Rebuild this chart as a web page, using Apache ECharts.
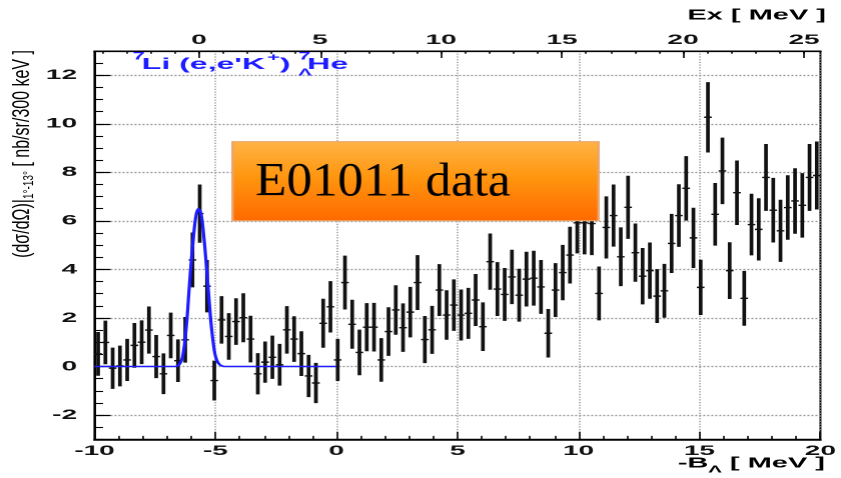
<!DOCTYPE html>
<html>
<head>
<meta charset="utf-8">
<script src="https://cdn.jsdelivr.net/npm/echarts@6/dist/echarts.min.js"></script>
<style>
  html, body { margin: 0; padding: 0; background: #fff; overflow: hidden; }
  #wrap { position: relative; width: 841px; height: 478px; overflow: hidden; background: #fff; }
  /* the spectrum is laid out at half width and stretched 2x horizontally */
  #chart { position: absolute; left: 0; top: 0; width: 420.5px; height: 478px; transform: scaleX(2); transform-origin: 0 0; }
</style>
</head>
<body>
<div id="wrap"><div id="chart"></div></div>
<script>
// 7Li(e,e'K+)7_Lambda He missing-mass spectrum, 300 keV bins
const binCenters = [
  -9.85, -9.55, -9.25, -8.95, -8.65, -8.35, -8.05, -7.75, -7.45, -7.15,
  -6.85, -6.55, -6.25, -5.95, -5.65, -5.35, -5.05, -4.75, -4.45, -4.15,
  -3.85, -3.55, -3.25, -2.95, -2.65, -2.35, -2.05, -1.75, -1.45, -1.15,
  -0.85, -0.55, -0.25, 0.05, 0.35, 0.65, 0.95, 1.25, 1.55, 1.85,
  2.15, 2.45, 2.75, 3.05, 3.35, 3.65, 3.95, 4.25, 4.55, 4.85,
  5.15, 5.45, 5.75, 6.05, 6.35, 6.65, 6.95, 7.25, 7.55, 7.85,
  8.15, 8.45, 8.75, 9.05, 9.35, 9.65, 9.95, 10.25, 10.55, 10.85,
  11.15, 11.45, 11.75, 12.05, 12.35, 12.65, 12.95, 13.25, 13.55, 13.85,
  14.15, 14.45, 14.75, 15.05, 15.35, 15.65, 15.95, 16.25, 16.55, 16.85,
  17.15, 17.45, 17.75, 18.05, 18.35, 18.65, 18.95, 19.25, 19.55, 19.85
];
const crossSection = [
  0.52, 0.99, -0.07, 0.02, 0.27, 0.87, 1.00, 1.50, 0.41, -0.30,
  1.28, 0.24, 1.10, 4.39, 6.30, 3.31, -0.58, 1.92, 1.24, 1.85,
  2.01, 1.13, -0.30, 0.18, 0.38, 0.07, 1.51, 1.13, 0.53, -0.39,
  -0.68, 1.78, 2.46, 0.27, 3.46, 1.74, 0.58, 1.62, 1.62, 0.27,
  1.44, 2.33, 1.60, 2.24, 3.46, 1.11, 1.51, 3.15, 2.12, 2.53,
  2.12, 2.19, 2.74, 1.64, 4.32, 3.19, 2.97, 3.69, 2.94, 3.60,
  3.64, 3.28, 1.37, 3.15, 3.87, 4.59, 5.92, 5.92, 5.89, 3.01,
  5.73, 6.22, 4.52, 6.56, 4.69, 3.72, 3.95, 2.90, 3.12, 5.07,
  6.22, 7.34, 5.30, 3.26, 10.27, 6.27, 8.06, 3.95, 7.16, 2.81,
  5.85, 5.65, 7.79, 6.44, 5.59, 6.55, 6.82, 6.64, 7.79, 7.87
];
const crossSectionErr = [
  0.90, 0.90, 0.85, 0.84, 0.87, 0.92, 0.90, 0.97, 0.89, 0.84,
  0.94, 0.88, 0.94, 1.13, 1.20, 1.08, 0.82, 0.98, 0.96, 0.96,
  1.01, 0.96, 0.85, 0.85, 0.89, 0.86, 0.98, 0.94, 0.92, 0.87,
  0.83, 1.01, 1.06, 0.87, 1.11, 1.01, 0.94, 0.99, 1.00, 0.90,
  1.00, 1.02, 1.00, 1.04, 1.13, 0.97, 0.99, 1.07, 1.02, 1.06,
  1.05, 1.05, 1.07, 1.00, 1.16, 1.11, 1.09, 1.12, 1.09, 1.13,
  1.13, 1.11, 1.00, 1.11, 1.14, 1.17, 1.26, 1.30, 1.30, 1.11,
  1.28, 1.28, 1.21, 1.30, 1.20, 1.16, 1.16, 1.11, 1.11, 1.22,
  1.29, 1.33, 1.24, 1.14, 1.45, 1.29, 1.37, 1.17, 1.33, 1.13,
  1.27, 1.28, 1.38, 1.33, 1.28, 1.33, 1.35, 1.33, 1.38, 1.40
];

// fitted ground-state peak (blue curve), drawn over the fit range -10 .. 0 MeV
const fitX = [-10, -6.7, -6.5, -6.35, -6.2, -6.1, -6.0, -5.9, -5.8, -5.71, -5.6, -5.5, -5.4, -5.3, -5.2, -5.1, -5.0, -4.85, -4.6, 0];
const fitY = [0, 0, 0.08, 0.45, 1.7, 3.05, 4.35, 5.45, 6.25, 6.5, 6.3, 5.55, 4.45, 3.2, 1.95, 1.02, 0.42, 0.1, 0, 0];

// tick labels
const bTicks = [-10, -5, 0, 5, 10, 15, 20];
const exTicks = [0, 5, 10, 15, 20, 25];
const yTicks = [-2, 0, 2, 4, 6, 8, 10, 12];

// Ex = -B_Lambda + B_Lambda(ground state)
const groundB = 5.68;
const bMin = -10, bMax = 20, yMin = -3, yMax = 13;

const exMinor = [];
for (let v = Math.ceil(bMin + groundB); v <= bMax + groundB; v++) exMinor.push(v);
const yMinor = [];
for (let v = yMin; v <= yMax + 1e-9; v += 0.5) yMinor.push(v);

const FONT = 'Liberation Sans';
const INK = '#111';
const BLUE = '#1c1cff';

const labelStyle = { color: INK, fontFamily: FONT, fontWeight: 'bold', fontSize: 14 };

const chart = echarts.init(document.getElementById('chart'), null, {
  renderer: 'canvas', width: 420.5, height: 478, devicePixelRatio: 2
});

const points = binCenters.map((x, i) => [x, crossSection[i], crossSectionErr[i]]);
const fitLine = fitX.map((x, i) => [x, fitY[i]]);

const option = {
  animation: false,
  backgroundColor: '#fff',
  grid: {
    left: 47.2, right: 8.35, top: 51, bottom: 38.7,
    show: true, borderColor: '#000', borderWidth: 1, backgroundColor: 'transparent'
  },
  xAxis: [
    {
      type: 'value', position: 'bottom', min: bMin, max: bMax, interval: 5,
      axisLine: { show: true, onZero: false, lineStyle: { color: '#000', width: 1.5 } },
      axisTick: { show: true, inside: true, length: 7.5, lineStyle: { color: '#000', width: 0.8 } },
      minorTick: { show: true, splitNumber: 5, length: 3.4, lineStyle: { color: '#000', width: 0.8 } },
      axisLabel: Object.assign({ margin: 5, customValues: bTicks }, labelStyle),
      splitLine: { show: true, lineStyle: { color: '#9c9c9c', width: 0.8, type: [1.2, 1.5] } },
      minorSplitLine: { show: false }
    },
    {
      type: 'value', position: 'top', min: bMin + groundB, max: bMax + groundB,
      axisLine: { show: true, onZero: false, lineStyle: { color: '#000', width: 1.2 } },
      axisTick: { show: true, inside: true, length: 7, customValues: exTicks, lineStyle: { color: '#000', width: 0.8 } },
      axisLabel: Object.assign({ margin: 4, customValues: exTicks }, labelStyle),
      splitLine: { show: false }
    },
    {
      type: 'value', position: 'top', min: bMin + groundB, max: bMax + groundB,
      axisLine: { show: false, onZero: false },
      axisTick: { show: true, inside: true, length: 2.8, customValues: exMinor, lineStyle: { color: '#000', width: 0.8 } },
      axisLabel: { show: false },
      splitLine: { show: false }
    }
  ],
  yAxis: [
    {
      type: 'value', position: 'left', min: yMin, max: yMax,
      axisLine: { show: true, onZero: false, lineStyle: { color: '#000', width: 1 } },
      axisTick: { show: true, inside: true, length: 8, customValues: yTicks, lineStyle: { color: '#000', width: 1.2 } },
      axisLabel: Object.assign({ margin: 8.7, customValues: yTicks }, labelStyle),
      splitLine: { show: true, lineStyle: { color: '#999', width: 1.3, type: [1, 1] } }
    },
    {
      type: 'value', position: 'left', min: yMin, max: yMax,
      axisLine: { show: false, onZero: false },
      axisTick: { show: true, inside: true, length: 4.3, customValues: yMinor, lineStyle: { color: '#000', width: 1.1 } },
      axisLabel: { show: false },
      splitLine: { show: false }
    }
  ],
  series: [
    {
      name: 'data',
      type: 'custom',
      xAxisIndex: 0, yAxisIndex: 0,
      clip: true,
      z: 3,
      data: points,
      renderItem: function (params, api) {
        const x = api.value(0), y = api.value(1), e = api.value(2);
        const c = api.coord([x, y]);
        const hi = api.coord([x, y + e]);
        const lo = api.coord([x, y - e]);
        return {
          type: 'group',
          children: [
            { type: 'line', shape: { x1: c[0], y1: hi[1], x2: c[0], y2: lo[1] },
              style: { stroke: INK, lineWidth: 1.85 } },
            { type: 'line', shape: { x1: c[0] - 1.9, y1: c[1], x2: c[0] + 1.9, y2: c[1] },
              style: { stroke: INK, lineWidth: 1.4 } }
          ]
        };
      }
    },
    {
      name: 'fit',
      type: 'line',
      xAxisIndex: 0, yAxisIndex: 0,
      z: 5,
      data: fitLine,
      smooth: 0.35,
      showSymbol: false,
      lineStyle: { color: BLUE, width: 1.6 }
    }
  ],
  graphic: [
    // y-axis title
    {
      type: 'text', x: 11, y: 154, rotation: Math.PI / 2, scaleY: 0.74, z: 50,
      style: {
        text: '(dσ/dΩ)|{s|1°-13°} [ nb/sr/300 keV ]',
        fontFamily: FONT, fontSize: 16, fill: '#000',
        align: 'center', verticalAlign: 'middle',
        rich: {
          s: { fontFamily: FONT, fontSize: 10, fill: '#000', verticalAlign: 'bottom', lineHeight: 19 }
        }
      }
    },
    // top axis title
    {
      type: 'text', right: 8, top: 8, z: 50,
      style: { text: 'Ex [ MeV ]', fontFamily: FONT, fontWeight: 'bold', fontSize: 14.5, fill: '#000' }
    },
    // bottom axis title
    {
      type: 'text', right: 8.5, top: 456, z: 50,
      style: {
        text: '-B{s|Λ} [ MeV ]', fontFamily: FONT, fontWeight: 'bold', fontSize: 14.5, fill: '#000',
        rich: { s: { fontFamily: FONT, fontWeight: 'bold', fontSize: 10, fill: '#000', verticalAlign: 'bottom', lineHeight: 22 } }
      }
    },
    // reaction label
    { type: 'text', x: 66.2, y: 56.5, z: 50,
      style: { text: '7', fontFamily: FONT, fontWeight: 'bold', fontSize: 11, fill: BLUE, verticalAlign: 'middle' } },
    { type: 'text', x: 70.8, y: 64.5, z: 50,
      style: { text: "Li (e,e'K", fontFamily: FONT, fontWeight: 'bold', fontSize: 16, fill: BLUE, verticalAlign: 'middle' } },
    { type: 'text', x: 133.4, y: 58, z: 50,
      style: { text: '+', fontFamily: FONT, fontWeight: 'bold', fontSize: 11, fill: BLUE, verticalAlign: 'middle' } },
    { type: 'text', x: 139.8, y: 64.5, z: 50,
      style: { text: ')', fontFamily: FONT, fontWeight: 'bold', fontSize: 16, fill: BLUE, verticalAlign: 'middle' } },
    { type: 'text', x: 149, y: 56.5, z: 50,
      style: { text: '7', fontFamily: FONT, fontWeight: 'bold', fontSize: 11, fill: BLUE, verticalAlign: 'middle' } },
    { type: 'text', x: 149, y: 72.5, z: 50,
      style: { text: 'Λ', fontFamily: FONT, fontWeight: 'bold', fontSize: 10, fill: BLUE, verticalAlign: 'middle' } },
    { type: 'text', x: 153.4, y: 64.5, z: 50,
      style: { text: 'He', fontFamily: FONT, fontWeight: 'bold', fontSize: 16, fill: BLUE, verticalAlign: 'middle' } },
    // experiment tag
    {
      type: 'rect', z: 100,
      shape: { x: 116.15, y: 141.7, width: 182.7, height: 79 },
      style: {
        fill: {
          type: 'linear', x: 0, y: 0, x2: 0, y2: 1,
          colorStops: [
            { offset: 0, color: '#ffb446' },
            { offset: 0.45, color: '#ff960f' },
            { offset: 1, color: '#ff6a00' }
          ]
        },
        stroke: '#eba46c', lineWidth: 1.2
      }
    },
    {
      type: 'text', x: 127.5, y: 182.8, scaleX: 0.5325, z: 101,
      style: {
        text: 'E01011 data', fontFamily: 'Liberation Serif', fontSize: 48, fill: '#000',
        align: 'left', verticalAlign: 'middle'
      }
    }
  ]
};

chart.setOption(option);
</script>
</body>
</html>
